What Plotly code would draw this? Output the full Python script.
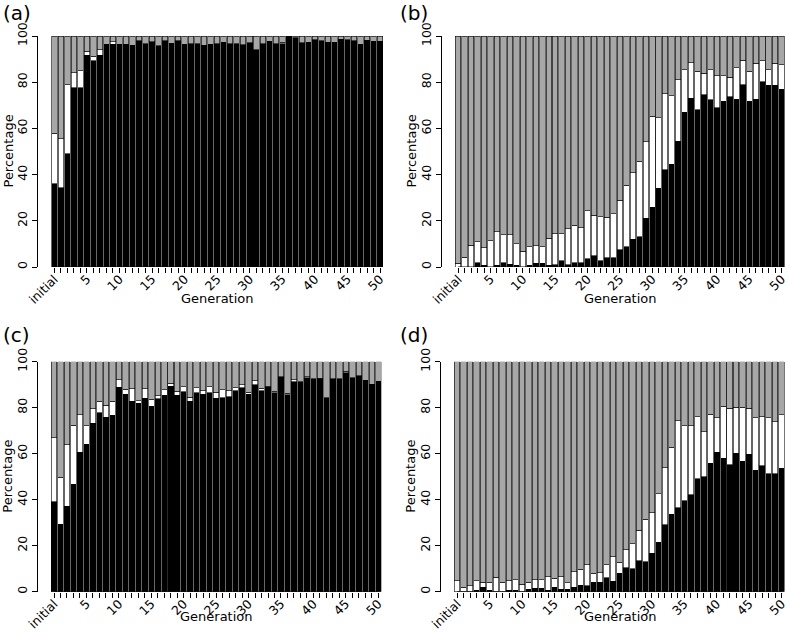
import plotly.graph_objects as go

categories = ["initial"] + [str(g) for g in range(1, 51)]
tick_labels = ["initial", "5", "10", "15", "20", "25", "30", "35", "40", "45", "50"]
y_ticks = [0, 20, 40, 60, 80, 100]

# percentage of black (bottom) and cumulative top of the white segment
a_black = [36, 34.4, 49, 77.6, 77.6, 91.6, 89.2, 91.6, 96.4, 96.4, 96.4, 96.4, 96, 98, 96.7, 97.5, 95.7,
           98, 96.8, 98, 96.4, 96.7, 96.7, 96, 96.4, 96.7, 97.3, 96.7, 96.7, 96.2, 97.1, 94, 96.7, 97.7,
           96.7, 96.7, 100, 99.3, 97.1, 97.3, 98.4, 98, 97.3, 97.3, 98.7, 98.4, 98, 96.4, 98.1, 97.7, 97.7]
a_top = [58, 55.6, 79, 84.2, 85, 93.5, 91.2, 94, 96.4, 97.5, 96.4, 96.4, 96, 98, 96.7, 97.5, 95.7,
         98, 96.8, 98, 96.4, 96.7, 96.7, 96, 96.4, 96.7, 97.3, 96.7, 96.7, 96.2, 97.1, 94, 96.7, 97.7,
         96.7, 97.3, 100, 99.3, 97.1, 97.3, 98.4, 98, 97.3, 97.3, 98.7, 98.4, 98, 96.4, 98.1, 97.7, 97.7]

b_black = [0, 0, 0, 1.9, 0.7, 0, 0.7, 1.9, 1.3, 0.7, 0, 0.7, 1.6, 1.6, 0.7, 1, 2.6, 1, 1.9, 1.9, 3.5,
           4.9, 2.6, 4, 4, 7.5, 8.8, 12, 13, 21, 25.9, 34.1, 42.2, 44.5, 54.5, 67, 73.1, 68, 74.6, 72.5,
           69, 71.7, 73.6, 72.7, 79, 71.7, 72.7, 80.2, 78.6, 78.6, 77]
b_top = [1.7, 4.3, 9.5, 11, 8.4, 11.3, 15.2, 13.9, 13.9, 10, 6.9, 8.7, 9.2, 8.7, 12.4, 14.3, 14.3, 16.5,
         18.1, 16.9, 24.3, 22.3, 21.8, 21.5, 23, 28.9, 35.4, 40.8, 45.7, 54.2, 65.2, 64.7, 75, 74.1, 81,
         85.4, 88.4, 84.7, 83.8, 85.4, 82.7, 82.7, 82.2, 86.3, 89.6, 84.7, 88.2, 89.2, 85.4, 88.2, 87.6]

c_black = [39.1, 29.4, 37.1, 46.7, 60.7, 64.2, 73.3, 77.7, 75.9, 76.8, 88.8, 85.9, 82.8, 82, 84.2, 80.7,
           83.9, 85.5, 89.3, 85.5, 87, 82.8, 86.5, 85.9, 86.4, 84.1, 84.3, 84.8, 87.4, 88.7, 85.9, 89.9,
           87.4, 88.8, 86.4, 93.5, 85.7, 91.2, 91.2, 93, 92.5, 92.5, 84.3, 92.6, 92.6, 95.2, 93, 93.8,
           91.9, 90.3, 91.4]
c_top = [67, 49.7, 63.9, 72.3, 77, 72.2, 79.6, 82.8, 81, 82.8, 92.2, 88.1, 88.3, 83, 88.3, 83.6, 85.2,
         87.8, 90.7, 87.2, 89.1, 84.5, 88.7, 87.4, 89.1, 86.7, 87.8, 87.4, 88.6, 89.9, 86.8, 91.7, 88.4,
         89.4, 87.2, 93.5, 86.2, 92.2, 91.2, 93.5, 92.5, 92.9, 84.3, 92.6, 92.6, 95.8, 93, 93.8, 91.9,
         90.3, 91.4]

d_black = [0, 0, 0, 0.6, 1.9, 0.6, 0, 0, 0.6, 0.6, 0, 1, 1.4, 1.4, 0.6, 1.9, 1, 1, 1.9, 2.9, 2.6, 4.2,
           4.2, 6.1, 4.6, 8.1, 10.4, 10, 13.5, 13, 16.7, 21.5, 29.1, 33.6, 36.4, 39.6, 42.2, 49.2, 50,
           55.8, 60.7, 58.1, 55.2, 60.2, 56.7, 59.7, 52.8, 54.8, 51.3, 51.3, 53.6]
d_top = [4.8, 1.9, 2.6, 4.8, 4.2, 4.2, 6.2, 4.2, 4.8, 5.2, 3.2, 4.2, 5.1, 5.1, 6.4, 5.9, 6.4, 3.9, 8.7,
         9.7, 11.7, 8, 8.3, 11.7, 15.2, 12.9, 18.3, 20.9, 26.8, 31.4, 34.3, 42.6, 54, 62.7, 74.3, 72.2,
         72.2, 76, 69.6, 77.2, 75.7, 80.6, 79.8, 80.3, 80.3, 79.7, 75.7, 76, 75.7, 74, 77]

panel_names = ["(a)", "(b)", "(c)", "(d)"]
panels = [(a_black, a_top), (b_black, b_top), (c_black, c_top), (d_black, d_top)]

W, H = 789, 633
FONT = "DejaVu Sans"
GREY = "#a7a7a7"

def px(x):
    return x / W

def py(y):
    return 1 - y / H

# panel geometry in pixels: (x_left, x_right, y_top(100), y_bottom(0))
geom = [(38, 383.3, 36, 267), (442, 784.9, 36, 267),
        (37.8, 381.5, 361.7, 591.7), (441, 784.9, 361.7, 591.7)]
label_pos = [(1, 13), (398, 13), (1, 335), (398, 335)]
ytitle_x = [8, 411, 8, 411]
xtitle_pos = [(217, 298), (620, 298), (216, 616), (620, 616)]

ticktext = [c if c in tick_labels else "" for c in categories]

fig = go.Figure()
annotations = []
shapes = []
for k, ((black, top), name) in enumerate(zip(panels, panel_names)):
    ax = "" if k == 0 else str(k + 1)
    white = [t - b for t, b in zip(top, black)]
    grey = [100 - t for t in top]
    for vals, col in ((black, "black"), (white, "white"), (grey, GREY)):
        fig.add_trace(go.Bar(x=categories, y=vals, xaxis="x" + ax, yaxis="y" + ax,
                             marker=dict(color=col, line=dict(color="black", width=0.6)),
                             showlegend=False, hoverinfo="skip"))
    x0, x1, yt, yb = geom[k]
    fig.layout["xaxis" + ax] = dict(
        domain=[px(x0), px(x1)], range=[-2.5, len(categories) - 0.5], type="category",
        anchor="y" + ax, tickmode="array", tickvals=categories, ticktext=ticktext,
        tickangle=-45, ticks="outside", ticklen=5, tickwidth=1, tickcolor="black",
        ticklabelstandoff=-6,
        showline=False, showgrid=False, zeroline=False, automargin=False,
        tickfont=dict(family=FONT, size=12.5, color="black"))
    fig.layout["yaxis" + ax] = dict(
        domain=[py(yb), py(yt)], range=[0, 100], anchor="x" + ax,
        tickmode="array", tickvals=y_ticks, ticktext=[str(v) for v in y_ticks],
        tickangle=-90, ticks="outside", ticklen=5, tickwidth=1, tickcolor="black",
        showline=True, linecolor="black", linewidth=1, showgrid=False, zeroline=False,
        automargin=False,
        tickfont=dict(family=FONT, size=12.5, color="black"))
    shapes.append(dict(type="line", xref="x" + ax, yref="y" + ax,
                       x0=categories[0], x1=categories[-1], y0=0, y1=0,
                       line=dict(color="black", width=1)))
    lx, ly = label_pos[k]
    annotations.append(dict(text=name, x=px(lx), y=py(ly), xref="paper", yref="paper",
                            xanchor="left", yanchor="middle", showarrow=False,
                            font=dict(family=FONT, size=20, color="black")))
    annotations.append(dict(text="Percentage", x=px(ytitle_x[k]), y=py((yt + yb) / 2),
                            xref="paper", yref="paper", xanchor="center", yanchor="middle",
                            textangle=-90, showarrow=False,
                            font=dict(family=FONT, size=13, color="black")))
    gx, gy = xtitle_pos[k]
    annotations.append(dict(text="Generation", x=px(gx), y=py(gy), xref="paper", yref="paper",
                            xanchor="center", yanchor="middle", showarrow=False,
                            font=dict(family=FONT, size=13, color="black")))

fig.update_layout(width=W, height=H, margin=dict(l=0, r=0, t=0, b=0, autoexpand=False),
                  barmode="stack", bargap=0.15, paper_bgcolor="white", plot_bgcolor="white",
                  showlegend=False, annotations=annotations, shapes=shapes,
                  font=dict(family=FONT, color="black"))

fig.write_html("out.html", config={"displayModeBar": False, "staticPlot": True},
               post_script="document.body.style.margin='0px';document.body.style.padding='0px';")
